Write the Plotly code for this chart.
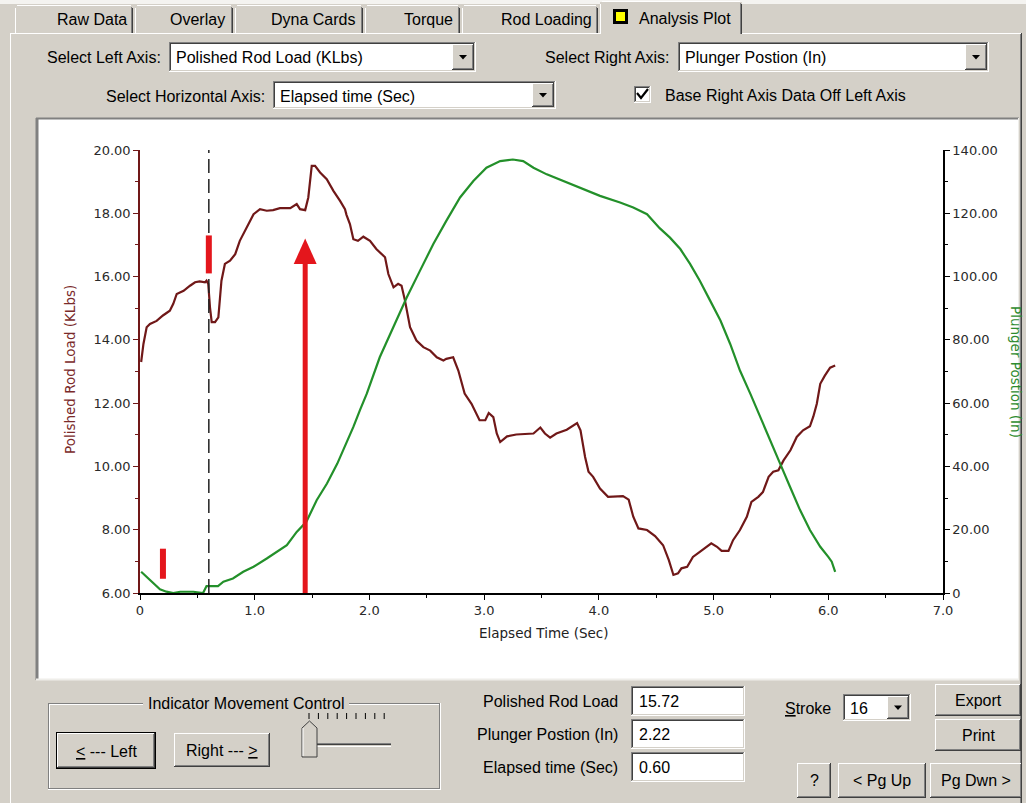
import plotly.graph_objects as go

# ---------------- data ----------------
time_load = [0.01, 0.03, 0.058, 0.087, 0.145, 0.20, 0.26, 0.29, 0.32, 0.38, 0.436, 0.48,
             0.52, 0.567, 0.58, 0.595, 0.61, 0.625, 0.654, 0.683, 0.71, 0.74, 0.785, 0.83,
             0.87, 0.93, 0.99, 1.046, 1.105, 1.16, 1.22, 1.31, 1.366, 1.395, 1.44, 1.467,
             1.497, 1.526, 1.57, 1.628, 1.686, 1.744, 1.787, 1.80, 1.83, 1.86, 1.90, 1.947,
             2.005, 2.06, 2.136, 2.165, 2.21, 2.25, 2.28, 2.31, 2.354, 2.41, 2.47, 2.53,
             2.587, 2.645, 2.67, 2.73, 2.775, 2.83, 2.89, 2.96, 3.01, 3.04, 3.08, 3.11,
             3.14, 3.20, 3.28, 3.43, 3.49, 3.53, 3.575, 3.63, 3.72, 3.81, 3.84, 3.88,
             3.91, 3.95, 4.01, 4.08, 4.21, 4.26, 4.30, 4.345, 4.42, 4.49, 4.53, 4.56,
             4.61, 4.65, 4.69, 4.72, 4.77, 4.82, 4.88, 4.94, 4.98, 5.03, 5.07, 5.13,
             5.17, 5.23, 5.29, 5.33, 5.39, 5.43, 5.48, 5.52, 5.565, 5.61, 5.67, 5.725,
             5.78, 5.84, 5.87, 5.90, 5.93, 5.97, 6.016, 6.06]
rod_load = [13.3, 13.87, 14.4, 14.5, 14.6, 14.77, 14.92, 15.14, 15.45, 15.55, 15.71, 15.82,
            15.85, 15.82, 15.87, 15.77, 15.03, 14.56, 14.56, 14.71, 15.87, 16.40, 16.5, 16.71,
            17.13, 17.55, 17.97, 18.13, 18.08, 18.1, 18.16, 18.16, 18.29, 18.13, 18.1, 18.5,
            19.5, 19.5, 19.29, 19.08, 18.71, 18.39, 18.13, 17.95, 17.66, 17.18, 17.13, 17.26,
            17.13, 16.87, 16.61, 16.08, 15.66, 15.77, 15.71, 15.24, 14.40, 13.98, 13.77, 13.66,
            13.45, 13.35, 13.40, 13.45, 13.03, 12.30, 11.98, 11.46, 11.46, 11.69, 11.56, 11.04,
            10.77, 10.95, 11.01, 11.04, 11.23, 11.04, 10.91, 11.04, 11.16, 11.37, 11.14, 10.30,
            9.83, 9.67, 9.30, 9.04, 9.06, 8.95, 8.41, 8.04, 7.99, 7.80, 7.62, 7.51,
            7.04, 6.57, 6.62, 6.78, 6.83, 7.14, 7.30, 7.48, 7.57, 7.46, 7.33, 7.33,
            7.67, 7.99, 8.41, 8.88, 9.04, 9.19, 9.67, 9.83, 9.88, 10.19, 10.51, 10.93,
            11.14, 11.27, 11.58, 11.98, 12.61, 12.87, 13.12, 13.19]

time_pos = [0.01, 0.058, 0.116, 0.174, 0.23, 0.29, 0.35, 0.465, 0.55, 0.58, 0.625, 0.68,
            0.727, 0.81, 0.90, 0.99, 1.105, 1.19, 1.28, 1.366, 1.45, 1.54, 1.63, 1.72,
            1.80, 1.86, 1.92, 1.977, 2.09, 2.21, 2.325, 2.44, 2.557, 2.67, 2.79, 2.906,
            3.02, 3.14, 3.25, 3.34, 3.43, 3.546, 3.72, 3.895, 4.01, 4.185, 4.30, 4.42,
            4.53, 4.62, 4.71, 4.795, 4.88, 4.97, 5.06, 5.145, 5.23, 5.32, 5.405, 5.49,
            5.58, 5.667, 5.754, 5.84, 5.93, 6.00, 6.03, 6.06]
plunger_pos = [6.7, 5.1, 3.05, 1.16, 0.42, 0.0, 0.4, 0.4, 0.0, 2.2, 2.2, 2.2,
               3.57, 4.6, 6.7, 8.3, 10.9, 13.0, 15.1, 19.3, 22.5, 29.3, 34.6, 40.9,
               47.5, 52.5, 58.0, 63.0, 74.5, 84.0, 93.4, 101.8, 110.3, 117.6, 125.0, 130.2,
               134.4, 136.5, 137.0, 136.5, 134.4, 132.3, 129.7, 127.1, 125.5, 123.4, 121.8, 119.7,
               115.3, 112.3, 108.7, 104.0, 98.7, 92.4, 86.1, 78.7, 70.3, 63.0, 55.6, 48.2,
               40.9, 33.5, 26.2, 19.9, 14.6, 11.4, 9.9, 6.7]

x_ticks = [0, 1, 2, 3, 4, 5, 6, 7]
x_tick_labels = ["0", "1.0", "2.0", "3.0", "4.0", "5.0", "6.0", "7.0"]
load_ticks = [6, 8, 10, 12, 14, 16, 18, 20]
load_tick_labels = ["6.00", "8.00", "10.00", "12.00", "14.00", "16.00", "18.00", "20.00"]
pos_ticks = [0, 20, 40, 60, 80, 100, 120, 140]
pos_tick_labels = ["0", "20.00", "40.00", "60.00", "80.00", "100.00", "120.00", "140.00"]

# indicator cursor and highlight marks (data units)
indicator_time = 0.60
indicator_load = "15.72"
indicator_pos = "2.22"
indicator_time_txt = "0.60"
mark_a = (0.60, 16.1, 17.3)   # x, y from, y to
mark_b = (0.20, 6.45, 7.4)
arrow_time, arrow_base, arrow_tip, arrow_head = 1.44, 6.0, 17.2, 16.4

# ---------------- page geometry (pixels) ----------------
W, H = 1026, 803
PL, PR, PT, PB = 140, 943, 150, 593

FACE = "#d4d0c8"
SHADOW = "#808080"
DARK = "#404040"
GUI_FONT = "Liberation Sans, Arial, sans-serif"
CHART_FONT = "DejaVu Sans, Verdana, sans-serif"
MAROON = "#701818"
GREEN = "#23902a"
RED = "#e4161c"


def P(x):
    return (x - PL) / (PR - PL)


def Q(y):
    return (PB - y) / (PB - PT)


shapes = []
annotations = []


def box(x0, y0, x1, y1, fill, layer="below"):
    shapes.append(dict(type="rect", xref="paper", yref="paper",
                       x0=P(x0), x1=P(x1), y0=Q(y1), y1=Q(y0),
                       fillcolor=fill, line=dict(width=0), layer=layer))


def seg(x0, y0, x1, y1, color, w=1, layer="below"):
    shapes.append(dict(type="line", xref="paper", yref="paper",
                       x0=P(x0), y0=Q(y0), x1=P(x1), y1=Q(y1),
                       line=dict(color=color, width=w), layer=layer))


def raised(x0, y0, x1, y1, default=False):
    if default:
        box(x0 - 1, y0 - 1, x1 + 1, y1 + 1, "black")
    box(x0, y0, x1, y1, FACE)
    seg(x0, y0 + 0.5, x1, y0 + 0.5, "white")
    seg(x0 + 0.5, y0, x0 + 0.5, y1, "white")
    seg(x0 + 1, y1 - 1.5, x1 - 1, y1 - 1.5, SHADOW)
    seg(x1 - 1.5, y0 + 1, x1 - 1.5, y1 - 1, SHADOW)
    seg(x0, y1 - 0.5, x1, y1 - 0.5, DARK)
    seg(x1 - 0.5, y0, x1 - 0.5, y1, DARK)


def sunken(x0, y0, x1, y1, fill="white"):
    box(x0, y0, x1, y1, fill)
    seg(x0, y0 + 0.5, x1, y0 + 0.5, SHADOW)
    seg(x0 + 0.5, y0, x0 + 0.5, y1, SHADOW)
    seg(x0 + 1, y0 + 1.5, x1 - 1, y0 + 1.5, DARK)
    seg(x0 + 1.5, y0 + 1, x0 + 1.5, y1 - 1, DARK)
    seg(x0, y1 - 0.5, x1, y1 - 0.5, "white")
    seg(x1 - 0.5, y0, x1 - 0.5, y1, "white")
    seg(x0 + 1, y1 - 1.5, x1 - 1, y1 - 1.5, FACE)
    seg(x1 - 1.5, y0 + 1, x1 - 1.5, y1 - 1, FACE)


def text(x, y, s, anchor="left", size=16, color="black", family=GUI_FONT, angle=0):
    annotations.append(dict(xref="paper", yref="paper", x=P(x), y=Q(y), text=s,
                            showarrow=False, xanchor=anchor, yanchor="middle",
                            textangle=angle, font=dict(family=family, size=size, color=color)))


def triangle(cx, cy):
    shapes.append(dict(type="path", xref="paper", yref="paper",
                       path=f"M {P(cx - 4)},{Q(cy - 2)} L {P(cx + 4)},{Q(cy - 2)} L {P(cx)},{Q(cy + 2.5)} Z",
                       fillcolor="black", line=dict(width=0), layer="below"))


def combo(x0, y0, x1, y1, label):
    sunken(x0, y0, x1, y1)
    raised(x1 - 24, y0 + 2, x1 - 2, y1 - 2)
    triangle(x1 - 13, (y0 + y1) / 2)
    text(x0 + 5, (y0 + y1) / 2 + 1, label)


# ---------------- window chrome ----------------
box(0, 0, W, 4, "#f4f3f0")
# tab body
seg(10, 33.5, 1022, 33.5, "white")
seg(10.5, 33, 10.5, H, "white")
seg(1021.5, 33, 1021.5, H, DARK)
seg(1020.5, 34, 1020.5, H, SHADOW)

tabs = [(15, 133, "Raw Data", 92), (135, 233, "Overlay", 197), (235, 363, "Dyna Cards", 313),
        (365, 460, "Torque", 428), (462, 598, "Rod Loading", 546)]
for x0, x1, name, cx in tabs:
    box(x0, 6, x1, 33, FACE)
    seg(x0 + 0.5, 8, x0 + 0.5, 33, "white")
    seg(x0 + 2, 5.5, x1 - 2, 5.5, "white")
    seg(x1 - 1.5, 7, x1 - 1.5, 33, SHADOW)
    seg(x1 - 0.5, 8, x1 - 0.5, 33, DARK)
    text(cx, 20, name, anchor="center")

# selected tab
box(600, 2, 742, 36, FACE)
seg(600.5, 4, 600.5, 34, "white")
seg(602, 1.5, 740, 1.5, "white")
seg(740.5, 3, 740.5, 34, SHADOW)
seg(741.5, 4, 741.5, 34, DARK)
box(613, 9, 628, 24, "black")
box(616, 12, 625, 21, "#ffff00")
text(637, 19, "Analysis Plot")

# selectors
text(163, 58, "Select Left Axis:", anchor="right")
combo(169, 42, 476, 72, "Polished Rod Load (KLbs)")
text(672, 58, "Select Right Axis:", anchor="right")
combo(678, 42, 989, 72, "Plunger Postion (In)")
text(267, 96, "Select Horizontal Axis:", anchor="right")
combo(273, 81, 556, 109, "Elapsed time (Sec)")
sunken(634, 86, 651, 103)
shapes.append(dict(type="path", xref="paper", yref="paper",
                   path=f"M {P(637)},{Q(93)} L {P(641)},{Q(98)} L {P(648)},{Q(89)}",
                   line=dict(color="black", width=2.2), layer="below"))
text(663, 95, "Base Right Axis Data Off Left Axis")

# plot panel (sunken, white)
box(36, 118, 1019, 680, "white")
seg(36, 118.5, 1019, 118.5, SHADOW, 2)
seg(37, 118, 37, 680, SHADOW, 3)
seg(36, 679.5, 1019, 679.5, "#efeeea", 2)
seg(1018.5, 118, 1018.5, 680, "#efeeea", 1)

# indicator movement group
seg(48, 703.5, 440, 703.5, SHADOW)
seg(48, 704.5, 440, 704.5, "white")
seg(48.5, 703, 48.5, 789, SHADOW)
seg(49.5, 704, 49.5, 788, "white")
seg(48, 788.5, 440, 788.5, SHADOW)
seg(48, 789.5, 441, 789.5, "white")
seg(439.5, 703, 439.5, 789, SHADOW)
seg(440.5, 703, 440.5, 790, "white")
box(143, 695, 349, 712, FACE)
text(246, 703, "Indicator Movement Control", anchor="center")

raised(57, 733, 155, 768, default=True)
text(106, 751, "<u>&lt;</u> --- Left", anchor="center")
raised(174, 733, 270, 767)
text(222, 750, "Ri<u>g</u>ht --- <u>&gt;</u>", anchor="center")

# slider
for k in range(9):
    tx = 309 + k * 9.4
    seg(tx, 713, tx, 719, "black")
seg(306, 743.5, 391, 743.5, SHADOW)
seg(306, 744.5, 391, 744.5, DARK)
seg(306, 746.5, 391, 746.5, "white")
shapes.append(dict(type="path", xref="paper", yref="paper",
                   path=(f"M {P(302)},{Q(757)} L {P(302)},{Q(728)} L {P(309.5)},{Q(721)} "
                         f"L {P(317)},{Q(728)} L {P(317)},{Q(757)} Z"),
                   fillcolor=FACE, line=dict(color=DARK, width=1), layer="below"))
seg(303, 728, 303, 756, "white")

# readouts
text(620, 701, "Polished Rod Load", anchor="right")
sunken(631, 686, 745, 716)
text(637, 701, indicator_load)
text(620, 734, "Plunger Postion (In)", anchor="right")
sunken(631, 719, 745, 749)
text(637, 734, indicator_pos)
text(620, 767, "Elapsed time (Sec)", anchor="right")
sunken(631, 752, 745, 782)
text(637, 767, indicator_time_txt)

text(783, 708, "<u>S</u>troke")
combo(843, 694, 911, 721, "16")

raised(935, 684, 1021, 716)
text(978, 700, "Export", anchor="center")
raised(935, 719, 1021, 751)
text(978, 735, "Print", anchor="center")
raised(797, 763, 831, 798)
text(814, 780, "?", anchor="center")
raised(838, 763, 926, 798)
text(882, 780, "&lt; Pg Up", anchor="center")
raised(930, 763, 1022, 798)
text(976, 780, "Pg Dwn &gt;", anchor="center")

# ---------------- chart decorations ----------------
shapes.append(dict(type="line", xref="x", yref="y", x0=indicator_time, x1=indicator_time,
                   y0=6, y1=20, line=dict(color="#222222", width=1.5, dash="14px,6px"),
                   layer="above"))
for mx, ya, yb in (mark_a, mark_b):
    shapes.append(dict(type="line", xref="x", yref="y", x0=mx, x1=mx, y0=ya, y1=yb,
                       line=dict(color=RED, width=6), layer="above"))
shapes.append(dict(type="line", xref="x", yref="y", x0=arrow_time, x1=arrow_time,
                   y0=arrow_base, y1=arrow_head, line=dict(color=RED, width=5), layer="above"))
shapes.append(dict(type="path", xref="x", yref="y",
                   path=(f"M {arrow_time - 0.1},{arrow_head} L {arrow_time + 0.1},{arrow_head} "
                         f"L {arrow_time},{arrow_tip} Z"),
                   fillcolor=RED, line=dict(width=0), layer="above"))

# axis titles
text(70, 370, "Polished Rod Load (KLbs)", anchor="center", size=13.5, color="#7a2a2a",
     family=CHART_FONT, angle=-90)
text(1016, 372, "Plunger Postion (In)", anchor="center", size=13.5, color="#2e8b2e",
     family=CHART_FONT, angle=90)
text(543, 633, "Elapsed Time (Sec)", anchor="center", size=13.5, color="#222222",
     family=CHART_FONT)

# ---------------- figure ----------------
fig = go.Figure()
fig.add_trace(go.Scatter(x=time_load, y=rod_load, mode="lines", name="Polished Rod Load (KLbs)",
                         line=dict(color=MAROON, width=2.2), yaxis="y"))
fig.add_trace(go.Scatter(x=time_pos, y=plunger_pos, mode="lines", name="Plunger Postion (In)",
                         line=dict(color=GREEN, width=2.2), yaxis="y2"))

tick_font = dict(family=CHART_FONT, size=13, color="#2a2a2a")
fig.update_layout(
    width=W, height=H,
    margin=dict(l=PL, r=W - PR, t=PT, b=H - PB, pad=0),
    paper_bgcolor=FACE,
    plot_bgcolor="rgba(0,0,0,0)",
    showlegend=False,
    shapes=shapes,
    annotations=annotations,
    xaxis=dict(range=[0, 7], tickvals=x_ticks, ticktext=x_tick_labels,
               showgrid=False, zeroline=False, showline=True, linecolor="black", linewidth=1.5,
               ticks="outside", ticklen=5, tickcolor="black", tickwidth=1.2,
               minor=dict(tickvals=[v + 0.5 for v in x_ticks[:-1]], ticks="outside",
                          ticklen=3, tickcolor="black"),
               tickfont=tick_font, fixedrange=True),
    yaxis=dict(range=[6, 20], tickvals=load_ticks, ticktext=load_tick_labels,
               showgrid=False, zeroline=False, showline=True, linecolor=MAROON, linewidth=1.5,
               ticks="outside", ticklen=5, tickcolor=MAROON, tickwidth=1.2,
               minor=dict(tickvals=[v + 1 for v in load_ticks[:-1]], ticks="outside",
                          ticklen=3, tickcolor=MAROON),
               tickfont=tick_font, fixedrange=True),
    yaxis2=dict(range=[0, 140], tickvals=pos_ticks, ticktext=pos_tick_labels,
                overlaying="y", side="right", anchor="x",
                showgrid=False, zeroline=False, showline=True, linecolor="black", linewidth=1.5,
                ticks="outside", ticklen=5, tickcolor="black", tickwidth=1.2,
                minor=dict(tickvals=[v + 10 for v in pos_ticks[:-1]], ticks="outside",
                           ticklen=3, tickcolor="black"),
                tickfont=tick_font, fixedrange=True),
)

fig.write_html("out.html", config=dict(displayModeBar=False))
